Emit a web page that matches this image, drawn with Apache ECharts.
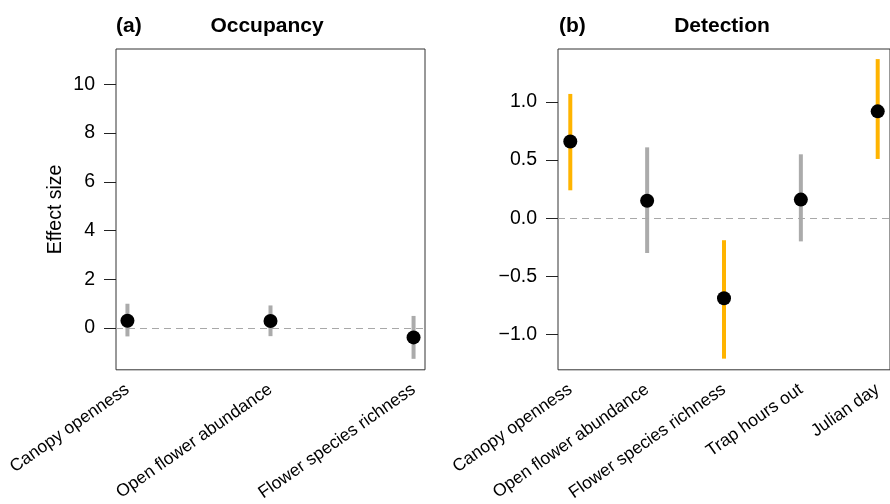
<!DOCTYPE html>
<html>
<head>
<meta charset="utf-8">
<script src="https://cdn.jsdelivr.net/npm/echarts@6/dist/echarts.min.js"></script>
<style>
html,body{margin:0;padding:0;background:#fff;}
#chart{width:890px;height:504px;}
</style>
</head>
<body>
<div id="chart"></div>
<script>
// ---- Data ----
var occCategories = ['Canopy openness', 'Open flower abundance', 'Flower species richness'];
var occEst = [0.30, 0.29, -0.38];
var occLo  = [-0.34, -0.33, -1.26];
var occHi  = [1.00, 0.93, 0.50];
var occTicks = [0, 2, 4, 6, 8, 10];

var detCategories = ['Canopy openness', 'Open flower abundance', 'Flower species richness', 'Trap hours out', 'Julian day'];
var detEst = [0.66, 0.15, -0.69, 0.16, 0.92];
var detLo  = [0.24, -0.30, -1.21, -0.20, 0.51];
var detHi  = [1.07, 0.61, -0.19, 0.55, 1.37];
var detTicks = [-1, -0.5, 0, 0.5, 1];

var panelTitles = ['Occupancy', 'Detection'];
var panelTags = ['(a)', '(b)'];
var yAxisTitle = 'Effect size';

// ---- Styles ----
var ORANGE = '#FFB400';
var GREY = '#ABABAB';
var FONT = 'Liberation Sans, Arial, Helvetica, sans-serif';

function positions(n) { var a = []; for (var i = 1; i <= n; i++) a.push(i); return a; }
function ciData(lo, hi) {
  return lo.map(function (l, i) { return [i + 1, l, hi[i]]; });
}
function ptData(est) {
  return est.map(function (e, i) { return [i + 1, e]; });
}
function fmtMinus(v, dec) {
  var s = dec == null ? String(Math.abs(v)) : Math.abs(v).toFixed(dec);
  return (v < 0 ? '\u2212' : '') + s;
}

var chart = echarts.init(document.getElementById('chart'), null, {renderer: 'canvas'});

function xAxisCfg(idx, cats) {
  var n = cats.length, pad = 0.04 * (n - 1);
  return {
    type: 'value', gridIndex: idx, min: 1 - pad, max: n + pad,
    axisLine: {show: false}, axisTick: {show: false}, splitLine: {show: false},
    axisLabel: {
      customValues: positions(n), rotate: 35, margin: 18,
      fontSize: 17.5, color: '#000', fontFamily: FONT,
      formatter: function (v) { return cats[Math.round(v) - 1]; }
    }
  };
}
function yAxisCfg(idx, min, max, ticks, dec, name) {
  return {
    type: 'value', gridIndex: idx, min: min, max: max,
    axisLine: {show: false},
    splitLine: {show: false},
    axisTick: {show: true, customValues: ticks, length: 12, lineStyle: {color: '#222', width: 1}},
    axisLabel: {
      customValues: ticks, margin: 21, fontSize: 19.5, color: '#000', fontFamily: FONT,
      formatter: function (v) { return fmtMinus(v, dec); }
    },
    name: name || '', nameLocation: 'middle', nameGap: 50, nameRotate: 90,
    nameTextStyle: {fontSize: 19.5, color: '#000', fontFamily: FONT}
  };
}

function ciSeries(idx, lo, hi) {
  return {
    type: 'custom', xAxisIndex: idx, yAxisIndex: idx, z: 2,
    data: ciData(lo, hi),
    encode: {x: 0, y: [1, 2]},
    renderItem: function (params, api) {
      var x = api.value(0), l = api.value(1), h = api.value(2);
      var p1 = api.coord([x, l]), p2 = api.coord([x, h]);
      var sig = (l > 0 && h > 0) || (l < 0 && h < 0);
      return {
        type: 'line',
        shape: {x1: p1[0], y1: p1[1], x2: p2[0], y2: p2[1]},
        style: {stroke: sig ? ORANGE : GREY, lineWidth: 4}
      };
    },
    markLine: {
      silent: true, symbol: ['none', 'none'], label: {show: false},
      lineStyle: {color: '#A8A8A8', type: [7, 5], width: 1.2},
      data: [{yAxis: 0}]
    }
  };
}
function ptSeries(idx, est) {
  return {
    type: 'scatter', xAxisIndex: idx, yAxisIndex: idx, z: 3,
    data: ptData(est), symbol: 'circle', symbolSize: 14,
    itemStyle: {color: '#000', opacity: 1}
  };
}

var option = {
  animation: false,
  backgroundColor: '#fff',
  grid: [
    {left: 116, top: 49, width: 309, height: 321, show: true, borderColor: '#333', borderWidth: 1, containLabel: false},
    {left: 558, top: 49, width: 334, height: 321, show: true, borderColor: '#333', borderWidth: 1, containLabel: false}
  ],
  xAxis: [xAxisCfg(0, occCategories), xAxisCfg(1, detCategories)],
  yAxis: [
    yAxisCfg(0, -1.71, 11.45, occTicks, null, yAxisTitle),
    yAxisCfg(1, -1.306, 1.457, detTicks, 1, '')
  ],
  series: [
    ciSeries(0, occLo, occHi), ptSeries(0, occEst),
    ciSeries(1, detLo, detHi), ptSeries(1, detEst)
  ],
  graphic: [
    {type: 'text', x: 116, y: 26, style: {text: panelTags[0], font: 'bold 21px ' + FONT, fill: '#000', textAlign: 'left', textVerticalAlign: 'middle'}},
    {type: 'text', x: 267, y: 26, style: {text: panelTitles[0], font: 'bold 21px ' + FONT, fill: '#000', textAlign: 'center', textVerticalAlign: 'middle'}},
    {type: 'text', x: 559, y: 26, style: {text: panelTags[1], font: 'bold 21px ' + FONT, fill: '#000', textAlign: 'left', textVerticalAlign: 'middle'}},
    {type: 'text', x: 722, y: 26, style: {text: panelTitles[1], font: 'bold 21px ' + FONT, fill: '#000', textAlign: 'center', textVerticalAlign: 'middle'}}
  ]
};
chart.setOption(option);
</script>
</body>
</html>
